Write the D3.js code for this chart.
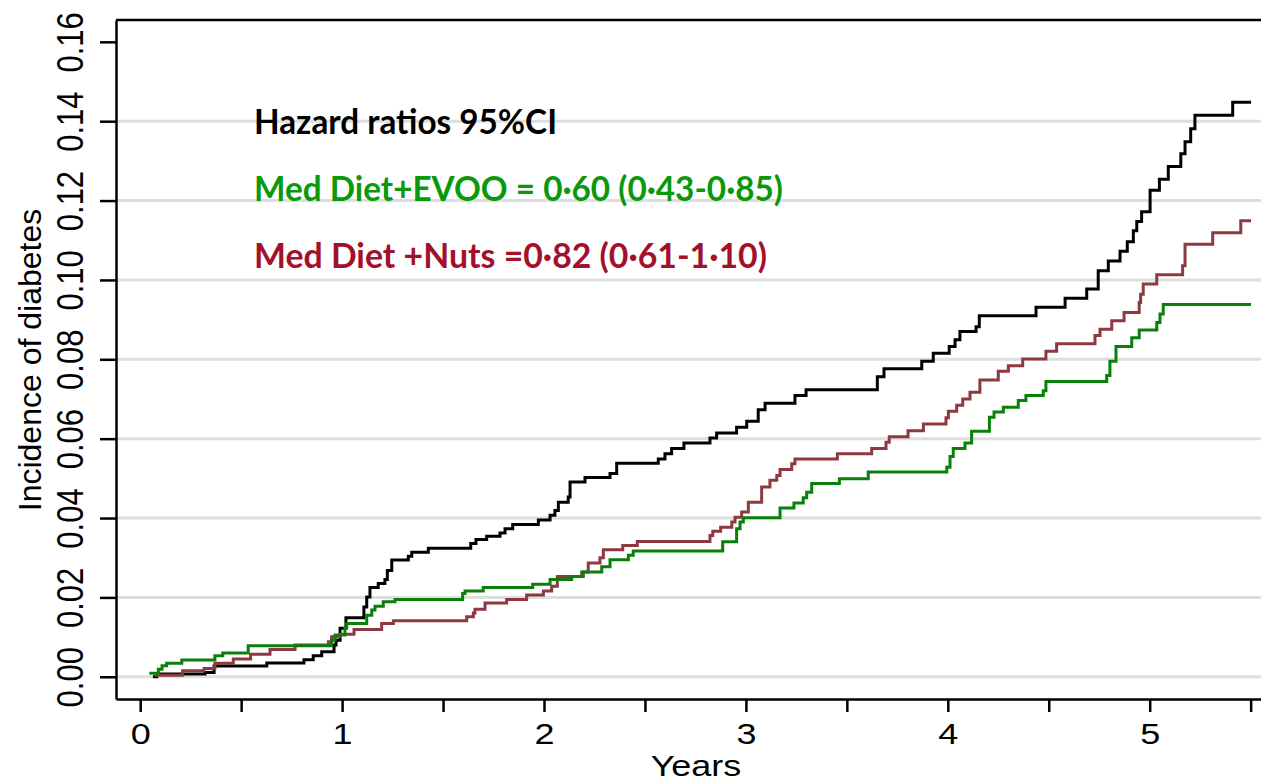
<!DOCTYPE html>
<html>
<head>
<meta charset="utf-8">
<script src="https://cdn.jsdelivr.net/npm/d3@7"></script>
<style>
  html, body { margin: 0; padding: 0; background: #fff; }
  svg { display: block; }
</style>
</head>
<body>
<div id="chart"></div>
<script>
// Cumulative incidence of diabetes (Kaplan-Meier style step curves)
// each step: [years, incidence]
const controlSteps = [
  [0.063, 0.0000], [0.082, 0.0007], [0.321, 0.0011], [0.366, 0.0027], [0.627, 0.0035],
  [0.811, 0.0043], [0.857, 0.0053], [0.899, 0.0063], [0.960, 0.0080], [0.970, 0.0092],
  [0.990, 0.0122], [1.019, 0.0149], [1.108, 0.0176], [1.122, 0.0201], [1.138, 0.0225],
  [1.179, 0.0235], [1.212, 0.0245], [1.224, 0.0268], [1.246, 0.0294], [1.328, 0.0304],
  [1.345, 0.0314], [1.427, 0.0324], [1.637, 0.0336], [1.663, 0.0346], [1.716, 0.0354],
  [1.782, 0.0362], [1.807, 0.0373], [1.845, 0.0384], [1.972, 0.0395], [2.030, 0.0407],
  [2.054, 0.0419], [2.071, 0.0440], [2.120, 0.0453], [2.129, 0.0491], [2.203, 0.0502],
  [2.327, 0.0512], [2.360, 0.0538], [2.566, 0.0549], [2.599, 0.0562], [2.632, 0.0575],
  [2.693, 0.0589], [2.822, 0.0602], [2.855, 0.0614], [2.954, 0.0629], [3.004, 0.0644],
  [3.061, 0.0673], [3.095, 0.0689], [3.243, 0.0709], [3.298, 0.0723], [3.651, 0.0756],
  [3.684, 0.0776], [3.871, 0.0795], [3.928, 0.0815], [4.007, 0.0832], [4.036, 0.0849],
  [4.060, 0.0870], [4.140, 0.0882], [4.156, 0.0910], [4.437, 0.0931], [4.581, 0.0954],
  [4.688, 0.0977], [4.745, 0.1023], [4.795, 0.1048], [4.853, 0.1072], [4.889, 0.1096],
  [4.919, 0.1124], [4.936, 0.1147], [4.960, 0.1172], [5.002, 0.1226], [5.048, 0.1254],
  [5.092, 0.1286], [5.154, 0.1318], [5.175, 0.1348], [5.203, 0.1381], [5.224, 0.1415],
  [5.411, 0.1448], [5.502, 0.1448]
];

const evooSteps = [
  [0.045, 0.0009], [0.090, 0.0019], [0.108, 0.0028], [0.131, 0.0034], [0.206, 0.0042],
  [0.370, 0.0053], [0.409, 0.0060], [0.535, 0.0078], [0.948, 0.0092], [0.965, 0.0105],
  [1.014, 0.0123], [1.023, 0.0134], [1.122, 0.0155], [1.147, 0.0168], [1.163, 0.0178],
  [1.204, 0.0189], [1.262, 0.0195], [1.597, 0.0210], [1.609, 0.0216], [1.699, 0.0225],
  [1.944, 0.0233], [2.030, 0.0245], [2.137, 0.0253], [2.187, 0.0264], [2.286, 0.0277],
  [2.327, 0.0295], [2.418, 0.0306], [2.442, 0.0317], [2.885, 0.0340], [2.954, 0.0373],
  [2.971, 0.0390], [2.987, 0.0401], [3.169, 0.0425], [3.238, 0.0438], [3.284, 0.0451],
  [3.301, 0.0465], [3.326, 0.0487], [3.463, 0.0499], [3.606, 0.0516], [3.995, 0.0528],
  [4.011, 0.0555], [4.027, 0.0575], [4.085, 0.0589], [4.118, 0.0619], [4.206, 0.0654],
  [4.229, 0.0667], [4.275, 0.0679], [4.349, 0.0696], [4.387, 0.0709], [4.473, 0.0721],
  [4.486, 0.0744], [4.787, 0.0759], [4.803, 0.0795], [4.833, 0.0832], [4.911, 0.0854],
  [4.948, 0.0874], [5.035, 0.0893], [5.051, 0.0914], [5.067, 0.0938], [5.502, 0.0938]
];

const nutsSteps = [
  [0.073, 0.0004], [0.210, 0.0015], [0.316, 0.0021], [0.370, 0.0034], [0.461, 0.0045],
  [0.547, 0.0057], [0.643, 0.0069], [0.767, 0.0080], [0.932, 0.0088], [0.948, 0.0101],
  [0.990, 0.0107], [1.059, 0.0119], [1.196, 0.0134], [1.254, 0.0141], [1.617, 0.0151],
  [1.650, 0.0161], [1.658, 0.0170], [1.708, 0.0186], [1.815, 0.0195], [1.914, 0.0206],
  [1.997, 0.0216], [2.038, 0.0228], [2.066, 0.0253], [2.195, 0.0264], [2.219, 0.0287],
  [2.277, 0.0300], [2.294, 0.0320], [2.390, 0.0331], [2.462, 0.0341], [2.822, 0.0356],
  [2.836, 0.0367], [2.875, 0.0377], [2.930, 0.0390], [2.946, 0.0402], [2.979, 0.0415],
  [3.012, 0.0440], [3.078, 0.0478], [3.119, 0.0495], [3.153, 0.0507], [3.169, 0.0522],
  [3.227, 0.0537], [3.243, 0.0549], [3.453, 0.0562], [3.623, 0.0575], [3.694, 0.0591],
  [3.710, 0.0605], [3.803, 0.0620], [3.879, 0.0637], [3.991, 0.0653], [4.003, 0.0669],
  [4.044, 0.0684], [4.074, 0.0700], [4.110, 0.0717], [4.159, 0.0748], [4.250, 0.0770],
  [4.300, 0.0784], [4.371, 0.0801], [4.486, 0.0820], [4.539, 0.0839], [4.729, 0.0860],
  [4.754, 0.0876], [4.812, 0.0897], [4.873, 0.0918], [4.948, 0.0943], [4.955, 0.0964],
  [4.968, 0.0990], [5.035, 0.1013], [5.163, 0.1036], [5.175, 0.1090], [5.312, 0.1119],
  [5.451, 0.1149], [5.502, 0.1149]
];

const yTicks = [0, 0.02, 0.04, 0.06, 0.08, 0.10, 0.12, 0.14, 0.16];
const gridValues = [0, 0.02, 0.04, 0.06, 0.08, 0.10, 0.12, 0.14];
const xTicks = [0, 0.5, 1, 1.5, 2, 2.5, 3, 3.5, 4, 4.5, 5, 5.5];

const legendLines = [
  { text: "Hazard ratios 95%CI", color: "#000000", width: 303 },
  { text: "Med Diet+EVOO = 0\u00b760 (0\u00b743-0\u00b785)", color: "#0b990b", width: 529 },
  { text: "Med Diet +Nuts =0\u00b782 (0\u00b761-1\u00b710)", color: "#a3102c", width: 513 }
];

const series = [
  { name: "Control", steps: controlSteps, color: "#000000" },
  { name: "Med Diet+Nuts", steps: nutsSteps, color: "#8e3840" },
  { name: "Med Diet+EVOO", steps: evooSteps, color: "#0a800a" }
];

const ancho = 1261, alto = 783;
const margen = { left: 116, right: 1265, top: 20, bottom: 699 };

const svg = d3.select("#chart").append("svg")
  .attr("width", ancho)
  .attr("height", alto);

const x = d3.scaleLinear()
  .domain([(margen.left - 140.2) / 201.9, (margen.right - 140.2) / 201.9])
  .range([margen.left, margen.right]);

const y = d3.scaleLinear()
  .domain([-0.0056, 0.1655])
  .range([margen.bottom, margen.top]);

// grid lines
svg.append("g")
  .selectAll("line")
  .data(gridValues)
  .enter().append("line")
  .attr("x1", margen.left).attr("x2", margen.right)
  .attr("y1", d => y(d)).attr("y2", d => y(d))
  .attr("stroke", "#dedede")
  .attr("stroke-width", 3);

// top border
svg.append("line")
  .attr("x1", margen.left).attr("x2", margen.right)
  .attr("y1", margen.top).attr("y2", margen.top)
  .attr("stroke", "#000").attr("stroke-width", 2.5);

// y axis
const yAxis = svg.append("g")
  .attr("transform", `translate(${margen.left},0)`)
  .call(d3.axisLeft(y).tickValues(yTicks).tickSize(16).tickSizeOuter(0).tickFormat(d3.format(".2f")));
yAxis.select(".domain").attr("stroke-width", 2.5);
yAxis.selectAll(".tick line").attr("stroke-width", 2.5);
yAxis.selectAll(".tick text")
  .attr("x", null).attr("dy", null)
  .attr("transform", "translate(-33,0) scale(1.2,1) rotate(-90)")
  .attr("text-anchor", "middle")
  .style("font-family", "'Liberation Sans', Arial, sans-serif")
  .style("font-size", "31px")
  .attr("fill", "#000");

// x axis
const xAxis = svg.append("g")
  .attr("transform", `translate(0,${margen.bottom})`)
  .call(d3.axisBottom(x).tickValues(xTicks).tickSize(13).tickSizeOuter(0)
    .tickFormat(d => Number.isInteger(d) ? d : ""));
xAxis.select(".domain").attr("stroke-width", 2.5);
xAxis.selectAll(".tick line").attr("stroke-width", 2.5);
xAxis.selectAll(".tick text")
  .attr("y", null).attr("dy", null)
  .attr("transform", "translate(0,45) scale(1.2,1)")
  .style("font-family", "'Liberation Sans', Arial, sans-serif")
  .style("font-size", "30px")
  .attr("fill", "#000");

// axis titles
svg.append("text")
  .attr("transform", "translate(696,776) scale(1.2,1)")
  .attr("text-anchor", "middle")
  .style("font-family", "'Liberation Sans', Arial, sans-serif")
  .style("font-size", "30px")
  .text("Years");

svg.append("text")
  .attr("transform", "translate(41,360) rotate(-90)")
  .attr("text-anchor", "middle")
  .style("font-family", "'Liberation Sans', Arial, sans-serif")
  .style("font-size", "32px")
  .text("Incidence of diabetes");

// curves
const generadorLinea = d3.line()
  .x(d => x(d[0]))
  .y(d => y(d[1]))
  .curve(d3.curveStepAfter);

svg.append("g")
  .selectAll("path")
  .data(series)
  .enter().append("path")
  .attr("fill", "none")
  .attr("stroke", d => d.color)
  .attr("stroke-width", 3)
  .attr("d", d => generadorLinea(d.steps));

// hazard ratio annotation
svg.append("g")
  .selectAll("text")
  .data(legendLines)
  .enter().append("text")
  .attr("x", 254)
  .attr("y", (d, i) => 134 + i * 67)
  .attr("textLength", d => d.width)
  .attr("lengthAdjust", "spacingAndGlyphs")
  .attr("fill", d => d.color)
  .style("font-family", "Lato, 'Open Sans', sans-serif")
  .style("font-weight", "bold")
  .style("font-size", "34px")
  .text(d => d.text);
</script>
</body>
</html>
